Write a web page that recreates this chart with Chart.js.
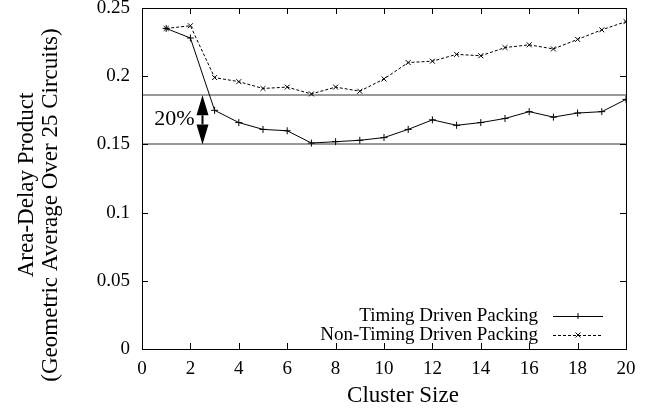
<!DOCTYPE html>
<html lang="en">
<head>
  <meta charset="UTF-8">
  <title>Area-Delay Product vs Cluster Size</title>
  <script src="https://cdn.jsdelivr.net/npm/chart.js"></script>
  <style>
    html, body { margin: 0; padding: 0; background: #fff; }
    #wrap { width: 652px; height: 410px; }
  </style>
</head>
<body>
  <div id="wrap"><canvas id="chart" width="652" height="410"></canvas></div>

  <script>
    const clusterSizes = [1, 2, 3, 4, 5, 6, 7, 8, 9, 10, 11, 12, 13, 14, 15, 16, 17, 18, 19, 20];
    const timingDriven = [0.235, 0.228, 0.175, 0.166, 0.161, 0.160, 0.151, 0.152, 0.153, 0.155,
                          0.161, 0.168, 0.164, 0.166, 0.169, 0.174, 0.170, 0.173, 0.174, 0.183];
    const nonTimingDriven = [0.235, 0.237, 0.199, 0.196, 0.191, 0.192, 0.187, 0.192, 0.189, 0.198,
                             0.210, 0.211, 0.216, 0.215, 0.221, 0.223, 0.220, 0.227, 0.234, 0.240];
    const refLines = [0.186, 0.15];
    const arrowX = 2.5;
    const arrowLabel = '20%';
    const xTicks = [0, 2, 4, 6, 8, 10, 12, 14, 16, 18, 20];
    const yTicks = [0, 0.05, 0.1, 0.15, 0.2, 0.25];
    const seriesNames = ['Timing Driven Packing', 'Non-Timing Driven Packing'];

    const FONT = '"Liberation Serif", "Times New Roman", serif';

    // gnuplot-like decorations: box, inward ticks, ref lines, arrow, legend, axis titles
    const decor = {
      id: 'decor',
      beforeDatasetsDraw(chart) {
        const { ctx, chartArea: a, scales: { x, y } } = chart;
        ctx.save();
        ctx.strokeStyle = '#999';
        ctx.lineWidth = 2;
        for (const v of refLines) {
          const py = Math.round(y.getPixelForValue(v));
          ctx.beginPath();
          ctx.moveTo(a.left, py);
          ctx.lineTo(a.right, py);
          ctx.stroke();
        }
        ctx.restore();
      },
      afterDraw(chart) {
        const { ctx, chartArea: a, scales: { x, y } } = chart;
        ctx.save();
        ctx.strokeStyle = '#000';
        ctx.lineWidth = 1;
        ctx.strokeRect(Math.round(a.left) + 0.5, Math.round(a.top) + 0.5,
                       Math.round(a.right - a.left), Math.round(a.bottom - a.top));
        const tl = 6;
        ctx.beginPath();
        for (const v of xTicks) {
          const px = Math.round(x.getPixelForValue(v)) + 0.5;
          ctx.moveTo(px, a.bottom); ctx.lineTo(px, a.bottom - tl);
          ctx.moveTo(px, a.top); ctx.lineTo(px, a.top + tl);
        }
        for (const v of yTicks) {
          const py = Math.round(y.getPixelForValue(v)) + 0.5;
          ctx.moveTo(a.left, py); ctx.lineTo(a.left + tl, py);
          ctx.moveTo(a.right, py); ctx.lineTo(a.right - tl, py);
        }
        ctx.stroke();

        // double arrow between the reference lines
        const ax = x.getPixelForValue(arrowX);
        const y1 = y.getPixelForValue(refLines[0]);
        const y2 = y.getPixelForValue(refLines[1]);
        const hw = 6, hl = 20;
        ctx.fillStyle = '#000';
        ctx.lineWidth = 2;
        ctx.beginPath();
        ctx.moveTo(ax, y1 + hl); ctx.lineTo(ax, y2 - hl);
        ctx.stroke();
        ctx.beginPath();
        ctx.moveTo(ax, y1); ctx.lineTo(ax - hw, y1 + hl); ctx.lineTo(ax + hw, y1 + hl); ctx.closePath();
        ctx.moveTo(ax, y2); ctx.lineTo(ax - hw, y2 - hl); ctx.lineTo(ax + hw, y2 - hl); ctx.closePath();
        ctx.fill();
        ctx.font = '22px ' + FONT;
        ctx.textAlign = 'right';
        ctx.textBaseline = 'middle';
        ctx.fillText(arrowLabel, ax - 8, (y1 + y2) / 2 - 1);

        // legend
        ctx.font = '19px ' + FONT;
        const rows = [316, 335];
        chart.data.datasets.forEach((ds, i) => {
          const ry = rows[i];
          ctx.fillStyle = '#000';
          ctx.textAlign = 'right';
          ctx.fillText(seriesNames[i], 538, ry);
          ctx.lineWidth = 1;
          ctx.setLineDash(ds.borderDash || []);
          ctx.beginPath();
          ctx.moveTo(553, ry + 0.5); ctx.lineTo(603, ry + 0.5);
          ctx.stroke();
          ctx.setLineDash([]);
          ctx.beginPath();
          if (ds.pointStyle === 'cross') {
            ctx.moveTo(575, ry + 0.5); ctx.lineTo(581, ry + 0.5);
            ctx.moveTo(578, ry - 3); ctx.lineTo(578, ry + 3);
          } else {
            ctx.moveTo(575.5, ry - 2.5); ctx.lineTo(580.5, ry + 2.5);
            ctx.moveTo(580.5, ry - 2.5); ctx.lineTo(575.5, ry + 2.5);
          }
          ctx.stroke();
        });

        // axis titles
        ctx.font = '23px ' + FONT;
        ctx.textAlign = 'center';
        ctx.fillText('Cluster Size', 403, 396);
        ctx.save();
        ctx.translate(27, 185);
        ctx.rotate(-Math.PI / 2);
        ctx.fillText('Area-Delay Product', 0, 0);
        ctx.restore();
        ctx.translate(51, 205);
        ctx.rotate(-Math.PI / 2);
        ctx.fillText('(Geometric Average Over 25 Circuits)', 0, 0);
        ctx.restore();
      }
    };

    new Chart(document.getElementById('chart'), {
      type: 'line',
      data: {
        datasets: [
          {
            label: seriesNames[0],
            data: clusterSizes.map((c, i) => ({ x: c, y: timingDriven[i] })),
            borderColor: '#000',
            borderWidth: 1,
            pointStyle: 'cross',
            pointRadius: 3.5,
            pointBorderColor: '#000',
            pointBorderWidth: 1,
            tension: 0
          },
          {
            label: seriesNames[1],
            data: clusterSizes.map((c, i) => ({ x: c, y: nonTimingDriven[i] })),
            borderColor: '#000',
            borderWidth: 1,
            borderDash: [3, 2],
            pointStyle: 'crossRot',
            pointRadius: 3.5,
            pointBorderColor: '#000',
            pointBorderWidth: 1,
            tension: 0
          }
        ]
      },
      options: {
        responsive: false,
        animation: false,
        layout: { padding: { left: 82, right: 26, top: 8, bottom: 0 } },
        plugins: { legend: { display: false }, tooltip: { enabled: false } },
        scales: {
          x: {
            type: 'linear',
            min: 0, max: 20,
            afterFit(scale) { scale.height = 61; scale.paddingLeft = 0; scale.paddingRight = 0; },
            afterBuildTicks(scale) { scale.ticks = xTicks.map(v => ({ value: v })); },
            grid: { display: false, drawTicks: false },
            border: { display: false },
            ticks: { color: '#000', padding: 9, font: { family: FONT, size: 19 } }
          },
          y: {
            min: 0, max: 0.25,
            afterFit(scale) { scale.width = 60; scale.paddingTop = 0; scale.paddingBottom = 0; },
            afterBuildTicks(scale) { scale.ticks = yTicks.map(v => ({ value: v })); },
            grid: { display: false, drawTicks: false },
            border: { display: false },
            ticks: {
              color: '#000', padding: 12, font: { family: FONT, size: 19 },
              callback: v => String(+v.toFixed(2))
            }
          }
        }
      },
      plugins: [decor]
    });
  </script>
</body>
</html>
